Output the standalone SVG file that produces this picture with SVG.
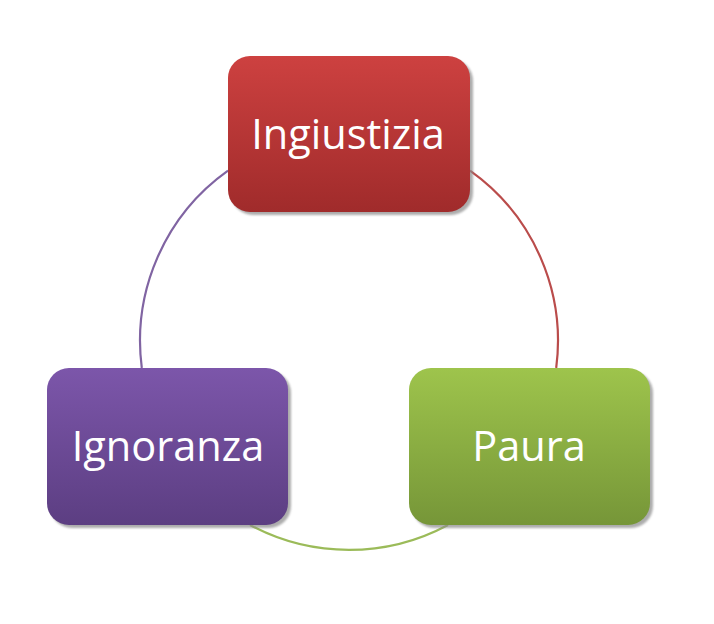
<svg xmlns="http://www.w3.org/2000/svg" width="714" height="624" viewBox="0 0 714 624">
  <defs>
    <linearGradient id="gRed" x1="0" y1="0" x2="0" y2="1">
      <stop offset="0" stop-color="#CD4140"/>
      <stop offset="1" stop-color="#A02B2B"/>
    </linearGradient>
    <linearGradient id="gPurple" x1="0" y1="0" x2="0" y2="1">
      <stop offset="0" stop-color="#7C56AA"/>
      <stop offset="1" stop-color="#5C3E82"/>
    </linearGradient>
    <linearGradient id="gGreen" x1="0" y1="0" x2="0" y2="1">
      <stop offset="0" stop-color="#9EC44C"/>
      <stop offset="1" stop-color="#769638"/>
    </linearGradient>
    <filter id="blur" x="-10%" y="-10%" width="120%" height="120%">
      <feGaussianBlur stdDeviation="1.2"/>
    </filter>
  </defs>
  <style>
    .shadow { fill: #8a8a8a; opacity: 0.7; filter: url(#blur); }
    .label { font-family: "Open Sans", "Noto Sans", sans-serif; font-size: 41.5px; fill: #ffffff; text-anchor: middle; }
    .arc { fill: none; stroke-width: 2.2; }
  </style>
  <rect width="714" height="624" fill="#ffffff"/>
  <g id="connectors">
    <path class="arc" stroke="#BA4C4B" d="M 470 170.6 A 209 209 0 0 1 556.2 368"/>
    <path class="arc" stroke="#9BBB59" d="M 448 525 A 209 209 0 0 1 250 525"/>
    <path class="arc" stroke="#8064A2" d="M 141.8 368 A 209 209 0 0 1 228 170.6"/>
  </g>
  <g id="node-ingiustizia">
    <rect class="shadow" x="231" y="59" width="242" height="156" rx="22"/>
    <rect x="228" y="56" width="242" height="156" rx="22" fill="url(#gRed)"/>
    <text class="label" x="348" y="149">Ingiustizia</text>
  </g>
  <g id="node-ignoranza">
    <rect class="shadow" x="50" y="371" width="241" height="157" rx="22"/>
    <rect x="47" y="368" width="241" height="157" rx="22" fill="url(#gPurple)"/>
    <text class="label" x="168" y="461">Ignoranza</text>
  </g>
  <g id="node-paura">
    <rect class="shadow" x="412" y="371" width="241" height="157" rx="22"/>
    <rect x="409" y="368" width="241" height="157" rx="22" fill="url(#gGreen)"/>
    <text class="label" x="529" y="461">Paura</text>
  </g>
</svg>
